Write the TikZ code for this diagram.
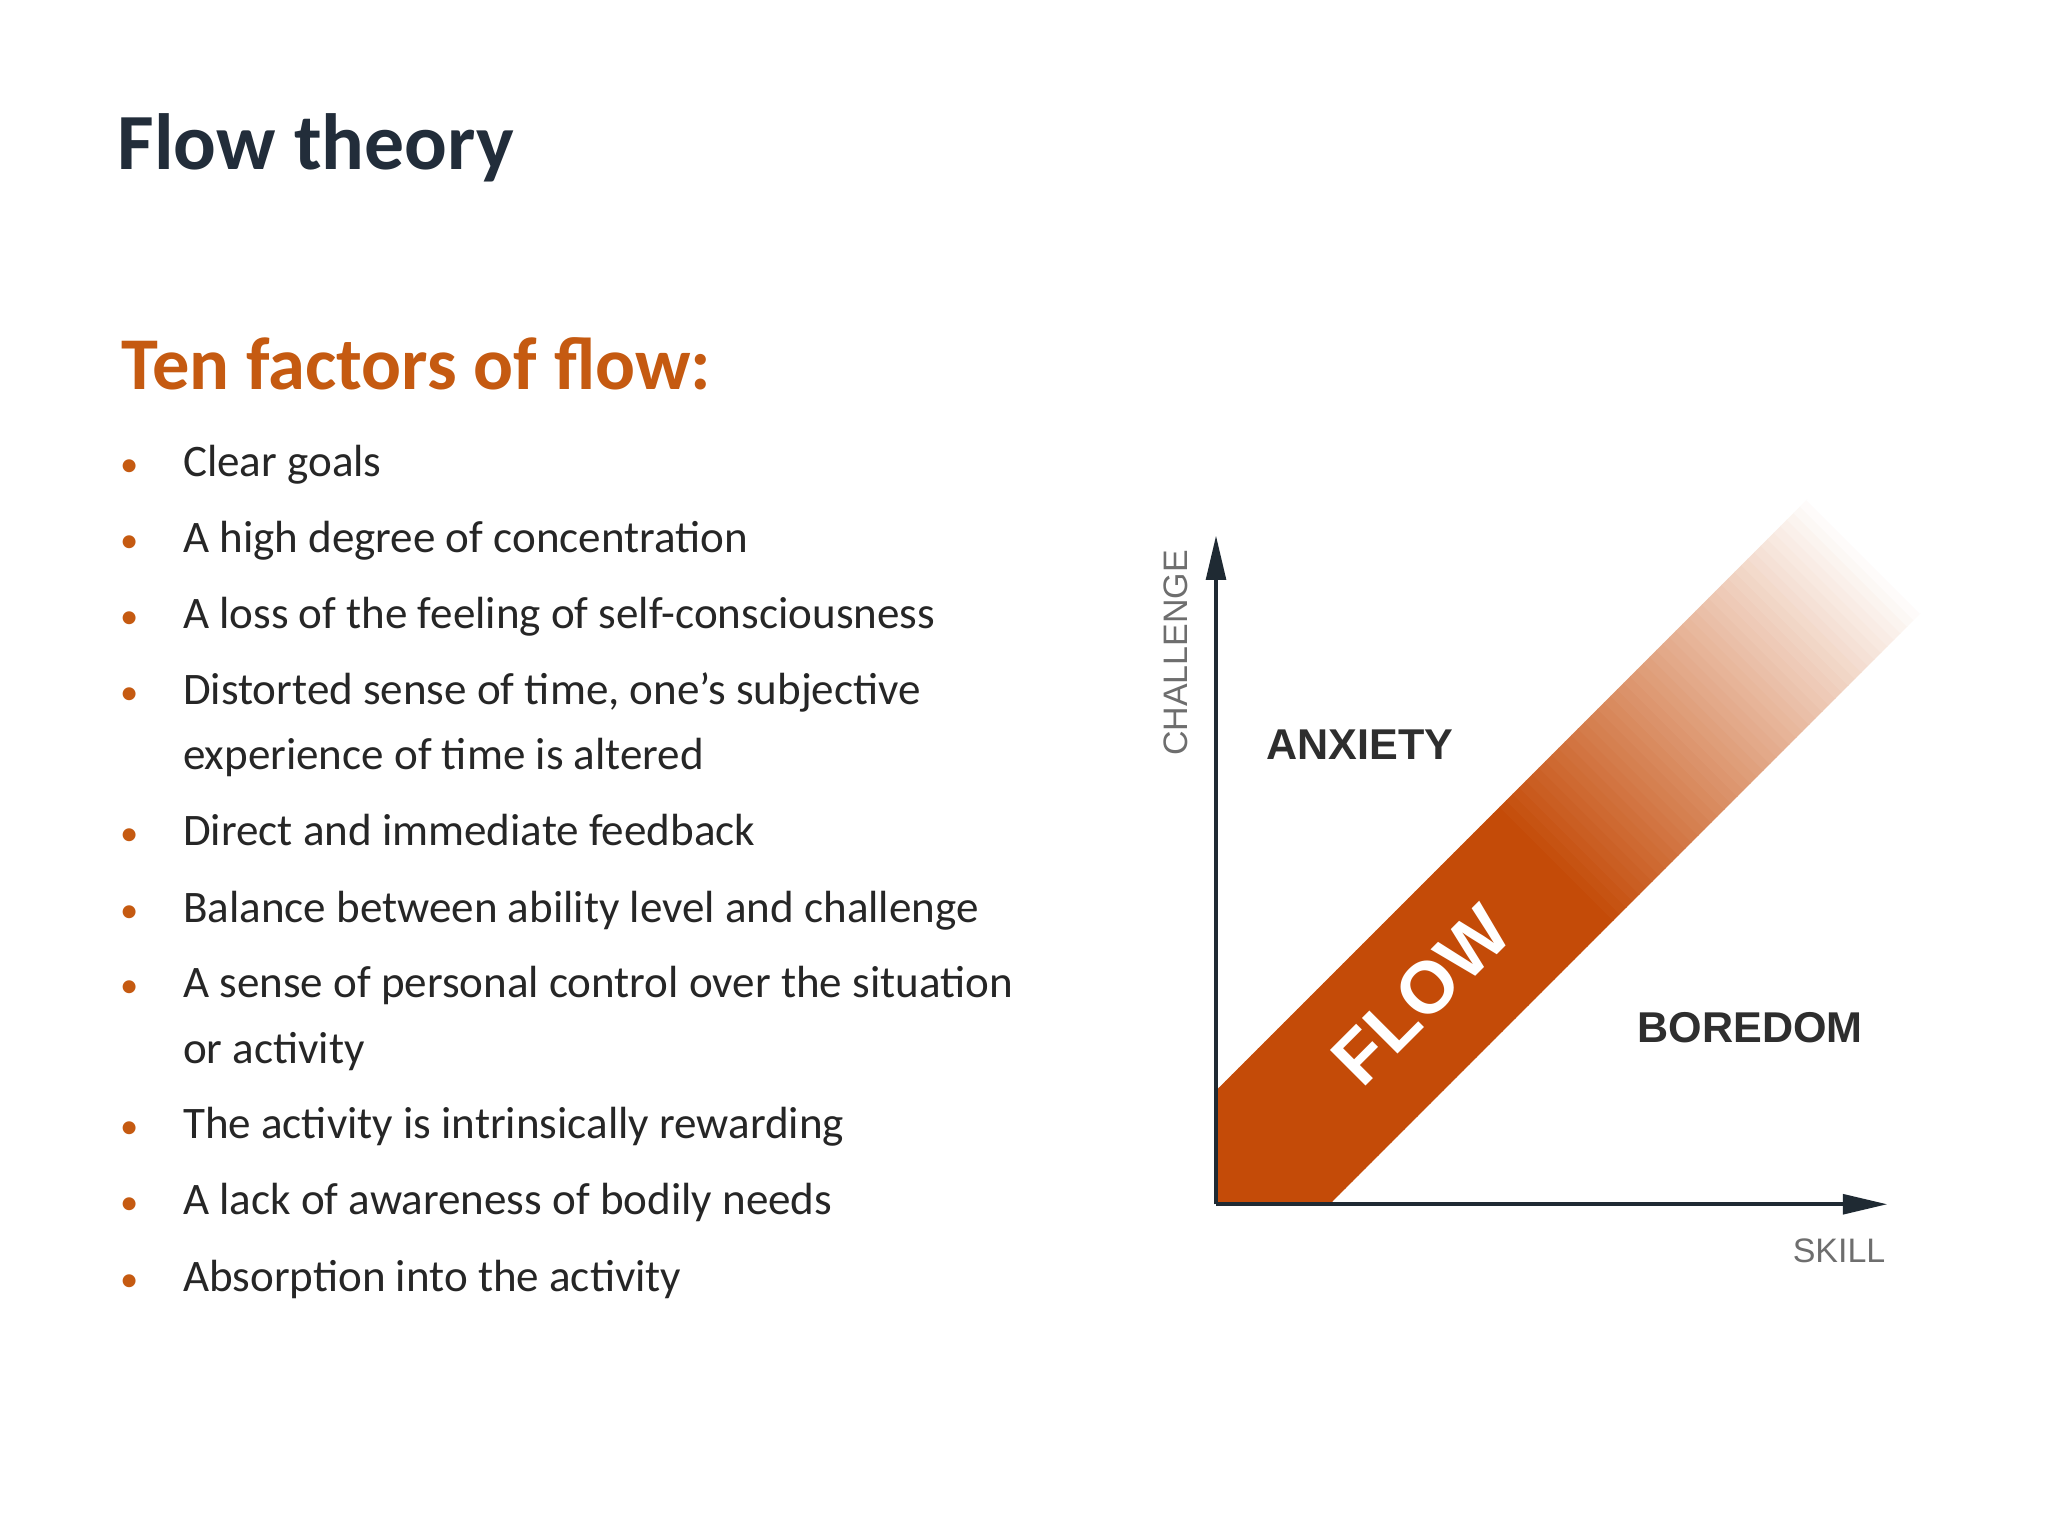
\documentclass[tikz,border=0pt]{standalone}
\usepackage{fontspec}
\setmainfont{Carlito}
\newfontfamily\diagfont{Liberation Sans}
\usetikzlibrary{arrows.meta}
\definecolor{titlec}{HTML}{222D3A}
\definecolor{accent}{HTML}{C55A11}
\definecolor{bandc}{HTML}{C44B08}
\definecolor{bodyc}{HTML}{262626}
\definecolor{axisc}{HTML}{1F2A33}
\definecolor{lblc}{HTML}{2E2E2E}
\definecolor{axlbl}{HTML}{6E6E6E}
\begin{document}
\begin{tikzpicture}[x=1pt,y=-1pt,
  item/.style={anchor=base west,font=\fontsize{34.5}{40}\selectfont,text=bodyc,inner sep=0},
  dot/.style={anchor=base,font=\fontsize{28}{30}\selectfont,text=accent,inner sep=0},
  axis/.style={draw=axisc,line width=3pt,-{Triangle[length=34pt,width=15pt]}},
  region/.style={font=\diagfont\bfseries\fontsize{33}{36}\selectfont,text=lblc},
  axname/.style={font=\diagfont\fontsize{26}{30}\selectfont,text=axlbl}]
\fill[white] (0,0) rectangle (1568,1175);
\useasboundingbox (0,0) rectangle (1568,1175);
\node[anchor=base west,inner sep=0,font=\bfseries\fontsize{61}{66}\selectfont,text=titlec] (title) at (90,130) {Flow theory};
\node[anchor=base west,inner sep=0,font=\bfseries\fontsize{57}{62}\selectfont,text=accent] (sub) at (93,298) {Ten factors of flow:};
\foreach \y/\t [count=\i] in {365/Clear goals,423/A high degree of concentration,481/A loss of the feeling of self-consciousness,539/{Distorted sense of time, one’s subjective},647/Direct and immediate feedback,706/Balance between ability level and challenge,764/A sense of personal control over the situation,872/The activity is intrinsically rewarding,930/A lack of awareness of bodily needs,989/Absorption into the activity}{
  \node[dot] (b\i) at (99,\y) {•};
  \node[item] (t\i) at (140,\y) {\t};
}
\node[item] (t4b) at (140,589) {experience of time is altered};
\node[item] (t7b) at (140,814) {or activity};
% band
\begin{scope}
\clip (931,835) -- (931,922) -- (1018,922) -- (1480,460) -- (1393,373) -- cycle;
\foreach \c in {0,10,...,1030}{
  \pgfmathsetmacro{\p}{max(0,min(100,100-(\c-520)/4.8))}
  \fill[bandc!\p!white] (\c+300,300) -- (\c+1000,1000) -- (\c+1011,1000) -- (\c+311,300) -- cycle;
}
\end{scope}
\coordinate (o) at (931,922);
\coordinate (ytip) at (931,410);
\coordinate (xtip) at (1445,922);
\draw[axis] (o) -- (ytip);
\draw[axis] (o) -- (xtip);
\node[font=\diagfont\bfseries\fontsize{56}{60}\selectfont,text=white,rotate=45] (flow) at (1088,762) {FLOW};
\node[region] (anx) at (1041,570) {ANXIETY};
\node[region] (bor) at (1340,787) {BOREDOM};
\node[axname,rotate=90] (ch) at (900,500) {CHALLENGE};
\node[axname] (sk) at (1408,958) {SKILL};
\end{tikzpicture}
\end{document}
